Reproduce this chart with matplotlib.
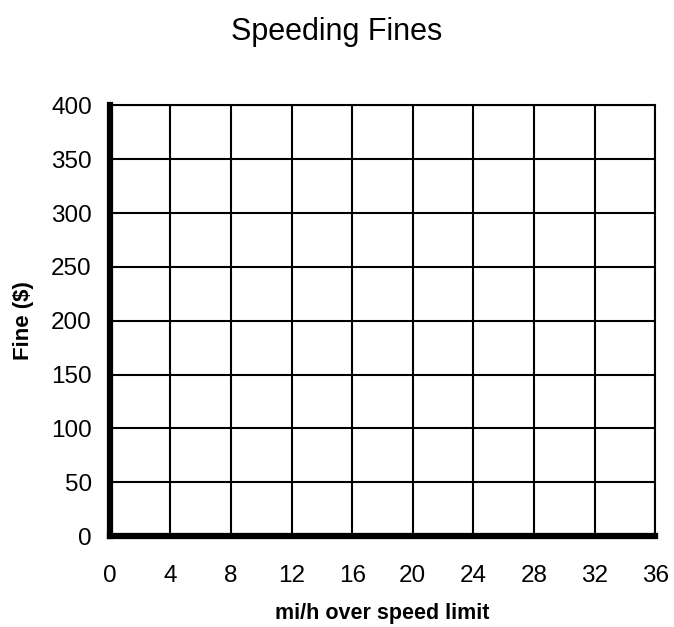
import numpy as np
import matplotlib.pyplot as plt

plt.rcParams['font.family'] = ['Liberation Sans', 'DejaVu Sans']

# blank grid, only the axes are given
x_ticks = [0, 4, 8, 12, 16, 20, 24, 28, 32, 36]
y_ticks = [0, 50, 100, 150, 200, 250, 300, 350, 400]

fig = plt.figure(figsize=(6.74, 6.27), dpi=100)
ax = fig.add_axes([0.163, 0.145, 0.809, 0.687])

ax.set_xlim(0, 36)
ax.set_ylim(0, 400)
ax.set_xticks(x_ticks)
ax.set_yticks(y_ticks)
ax.grid(True, color='black', linewidth=1.5)
ax.tick_params(length=0, labelsize=17.5)
ax.tick_params(axis='y', pad=13)
ax.tick_params(axis='x', pad=21)

for s in ['top', 'right']:
    ax.spines[s].set_linewidth(1.5)
for s in ['left', 'bottom']:
    ax.spines[s].set_linewidth(4.5)

ax.set_xlabel('mi/h over speed limit', fontsize=15.5, fontweight='bold', labelpad=11)
ax.set_ylabel('Fine ($)', fontsize=16, fontweight='bold', labelpad=12)
fig.text(0.5, 0.949, 'Speeding Fines', ha='center', va='center', fontsize=22)

fig.savefig('out.png', dpi=100)
